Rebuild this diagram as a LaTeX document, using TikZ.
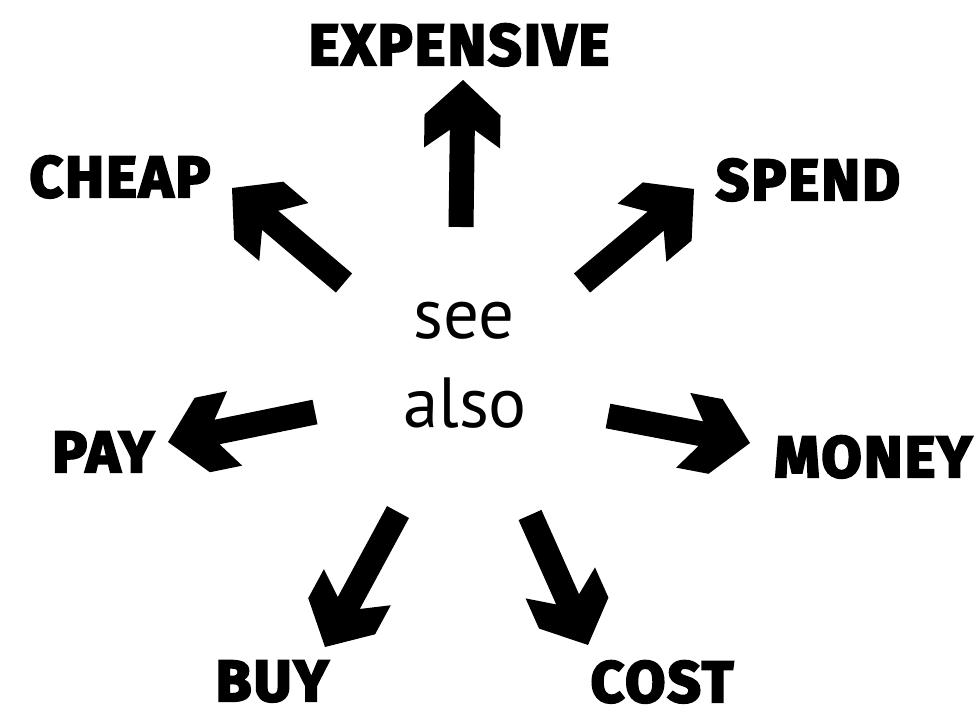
\documentclass[tikz,border=0pt]{standalone}
\usepackage{fontspec}
\usepackage{graphicx}
\usetikzlibrary{calc}
\newfontfamily\labelfont{Fira Sans}[BoldFeatures={FakeBold=4}, LetterSpace=4]
\newfontfamily\seefont{PT Sans}
\tikzset{
  lbl/.style={anchor=base, inner sep=0pt, text depth=0pt, font=\labelfont\bfseries\fontsize{58}{60}\selectfont},
  seetext/.style={anchor=base, inner sep=0pt, font=\seefont\fontsize{71}{89}\selectfont},
  arrowfill/.style={fill=black}
}
\newcommand\blockarrow[2]{% #1 tail, #2 tip
  \coordinate (ba-a) at ($(#2)!35pt!(#1)$);
  \coordinate (ba-b) at ($(#2)!68pt!(#1)$);
  \coordinate (ba-c) at ($(#2)!50pt!(#1)$);
  \fill[arrowfill] (#2)
    -- ($(ba-a)!38pt!-90:(#1)$) -- ($(ba-b)!38pt!-90:(#1)$)
    -- ($(ba-c)!12.5pt!-90:(#1)$) -- ($(#1)!12.5pt!90:(#2)$)
    -- ($(#1)!12.5pt!-90:(#2)$) -- ($(ba-c)!12.5pt!90:(#1)$)
    -- ($(ba-b)!38pt!90:(#1)$) -- ($(ba-a)!38pt!90:(#1)$) -- cycle;}
\begin{document}
\begin{tikzpicture}[x=1pt,y=-1pt]
\useasboundingbox[fill=white] (0,0) rectangle (980,709);
% centre text
\node[seetext] (see) at (464,338) {see};
\node[seetext] (also) at (465,427) {also};
% labels
\node[lbl] (expensive) at (459,65) {EXPENSIVE};
\node[lbl] (cheap) at (120,197) {CHEAP};
\node[lbl] (spend) at (808,200) {SPEND};
\node[lbl] (pay) at (103,472) {PAY};
\node[lbl] (money) at (873,477) {MONEY};
\node[lbl] (buy) at (272,701) {BUY};
\node[lbl] (cost) at (662,702) {COST};
% arrow ends
\coordinate (tExp) at (461,227);   \coordinate (hExp) at (463,80);
\coordinate (tCheap) at (344,283); \coordinate (hCheap) at (232,188);
\coordinate (tSpend) at (582,283); \coordinate (hSpend) at (694,189);
\coordinate (tPay) at (315,412);   \coordinate (hPay) at (168,442);
\coordinate (tMoney) at (608,416); \coordinate (hMoney) at (750,443);
\coordinate (tBuy) at (398,512);   \coordinate (hBuy) at (325,647);
\coordinate (tCost) at (530,515);  \coordinate (hCost) at (588,645);
\blockarrow{tExp}{hExp}
\blockarrow{tCheap}{hCheap}
\blockarrow{tSpend}{hSpend}
\blockarrow{tPay}{hPay}
\blockarrow{tMoney}{hMoney}
\blockarrow{tBuy}{hBuy}
\blockarrow{tCost}{hCost}
\end{tikzpicture}
\end{document}
